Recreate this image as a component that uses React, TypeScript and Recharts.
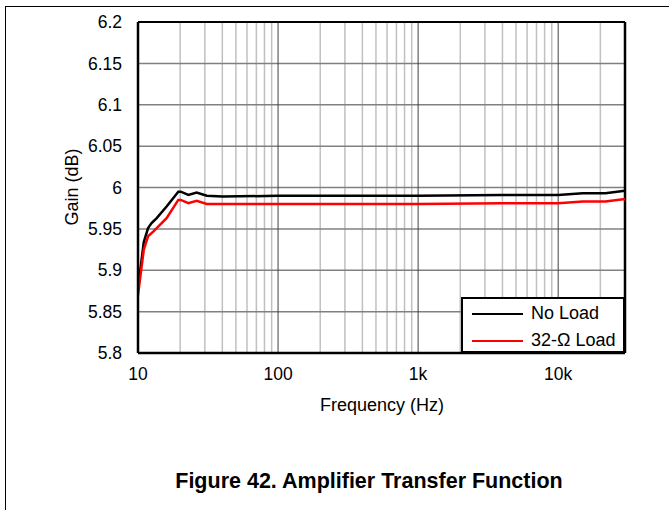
import React from "react"
import { LineChart, Line, XAxis, YAxis, ReferenceLine, Legend } from "recharts"

// frequency (Hz) and gain (dB)
const noLoadFreq = [10, 11, 11.8, 12.5, 13.6, 16, 19.4, 20.2, 22.9, 26.2, 31, 40, 100, 1000, 4000, 10000, 15000, 21700, 30000]
const noLoadGain = [5.878, 5.934, 5.951, 5.957, 5.963, 5.977, 5.995, 5.995, 5.991, 5.994, 5.99, 5.989, 5.99, 5.99, 5.991, 5.991, 5.993, 5.993, 5.996]

const loadFreq = [10, 11, 11.8, 12.9, 16, 19.4, 20.2, 22.9, 26.2, 31, 100, 1000, 4000, 10000, 15000, 21700, 30000]
const loadGain = [5.87, 5.925, 5.941, 5.947, 5.963, 5.985, 5.985, 5.981, 5.984, 5.98, 5.98, 5.98, 5.981, 5.981, 5.983, 5.983, 5.986]

const seriesNames = ["No Load", "32-Ω Load"]
const xTicks = [10, 100, 1000, 10000]
const xTickLabels = ["10", "100", "1k", "10k"]
const yTicks = [5.8, 5.85, 5.9, 5.95, 6, 6.05, 6.1, 6.15, 6.2]
const minorX = [20, 30, 40, 50, 60, 70, 80, 90, 200, 300, 400, 500, 600, 700, 800, 900, 2000, 3000, 4000, 5000, 6000, 7000, 8000, 9000, 20000]

const noLoad = noLoadFreq.map((f, i) => ({ f, g: noLoadGain[i] }))
const load = loadFreq.map((f, i) => ({ f, g: loadGain[i] }))

const font = "Arial, 'Liberation Sans', sans-serif"

const LegendBox = ({ payload }: any) => {
  // keep the legend in the figure's order
  const items = seriesNames.map((n) => (payload || []).find((p: any) => p.value === n)).filter(Boolean)
  return (
    <div
      style={{
        width: 164,
        height: 56,
        boxSizing: "border-box",
        border: "2px solid #000",
        background: "#fff",
        fontFamily: font,
        fontSize: 18,
        color: "#000",
        paddingTop: 1,
      }}
    >
      {items.map((p: any) => (
        <div key={p.value} style={{ height: 27, display: "flex", alignItems: "center" }}>
          <svg width={68} height={10} style={{ flex: "none" }}>
            <line x1={9} x2={60} y1={5} y2={5} stroke={p.color} strokeWidth={2} />
          </svg>
          <span>{p.value}</span>
        </div>
      ))}
    </div>
  )
}

export default function App() {
  return (
    <div style={{ position: "absolute", left: 0, top: 0, width: 669, height: 510, background: "#fff", fontFamily: font }}>
      <div
        style={{
          position: "absolute",
          left: 5,
          top: 6,
          width: 664,
          height: 504,
          borderTop: "1px solid #000",
          borderLeft: "1px solid #000",
        }}
      />
      <LineChart width={669} height={510} margin={{ top: 22, right: 44, bottom: 127, left: 48 }} style={{ position: "absolute", left: 0, top: 0 }}>
        {minorX.map((v) => (
          <ReferenceLine key={`mx${v}`} x={v} stroke="#c0c0c0" strokeWidth={1.5} />
        ))}
        {yTicks.map((v) => (
          <ReferenceLine key={`hy${v}`} y={v} stroke="#808080" strokeWidth={1.5} />
        ))}
        {xTicks.slice(1).map((v) => (
          <ReferenceLine key={`Mx${v}`} x={v} stroke="#404040" strokeWidth={1} />
        ))}
        <ReferenceLine y={6.2} stroke="#000" strokeWidth={2} />
        <ReferenceLine x={30000} stroke="#000" strokeWidth={2.5} />
        <XAxis
          type="number"
          dataKey="f"
          scale="log"
          domain={[10, 30000]}
          ticks={xTicks}
          allowDataOverflow
          height={30}
          tickLine={false}
          tickSize={0}
          tickMargin={15}
          axisLine={{ stroke: "#000", strokeWidth: 2.5 }}
          tick={{ fill: "#000", fontSize: 17.5, fontFamily: font }}
          tickFormatter={(v: number) => xTickLabels[xTicks.indexOf(v)] ?? String(v)}
          label={{
            content: () => (
              <text x={382} y={405} textAnchor="middle" dominantBaseline="central" fontSize={18} fontFamily={font} fill="#000">
                Frequency (Hz)
              </text>
            ),
          }}
        />
        <YAxis
          type="number"
          domain={[5.8, 6.2]}
          ticks={yTicks}
          allowDataOverflow
          width={90}
          tickLine={false}
          tickSize={0}
          tickMargin={16}
          axisLine={{ stroke: "#000", strokeWidth: 2.5 }}
          tick={{ fill: "#000", fontSize: 17.5, fontFamily: font }}
          label={{
            content: () => (
              <text x={72} y={187} transform="rotate(-90 72 187)" textAnchor="middle" dominantBaseline="central" fontSize={18} fontFamily={font} fill="#000">
                Gain (dB)
              </text>
            ),
          }}
        />
        <Line data={noLoad} dataKey="g" name={seriesNames[0]} stroke="#000" strokeWidth={2.5} dot={false} isAnimationActive={false} />
        <Line data={load} dataKey="g" name={seriesNames[1]} stroke="#ff0000" strokeWidth={2.5} dot={false} isAnimationActive={false} />
        <Legend
          layout="vertical"
          align="center"
          verticalAlign="middle"
          content={<LegendBox />}
          wrapperStyle={{ position: "absolute", left: 461, top: 297, width: 164, height: 56 }}
        />
      </LineChart>
      <div
        style={{
          position: "absolute",
          left: 0,
          width: 738,
          top: 468,
          textAlign: "center",
          fontSize: 21.5,
          fontWeight: "bold",
          color: "#000",
          lineHeight: "26px",
        }}
      >
        Figure 42. Amplifier Transfer Function
      </div>
    </div>
  )
}
